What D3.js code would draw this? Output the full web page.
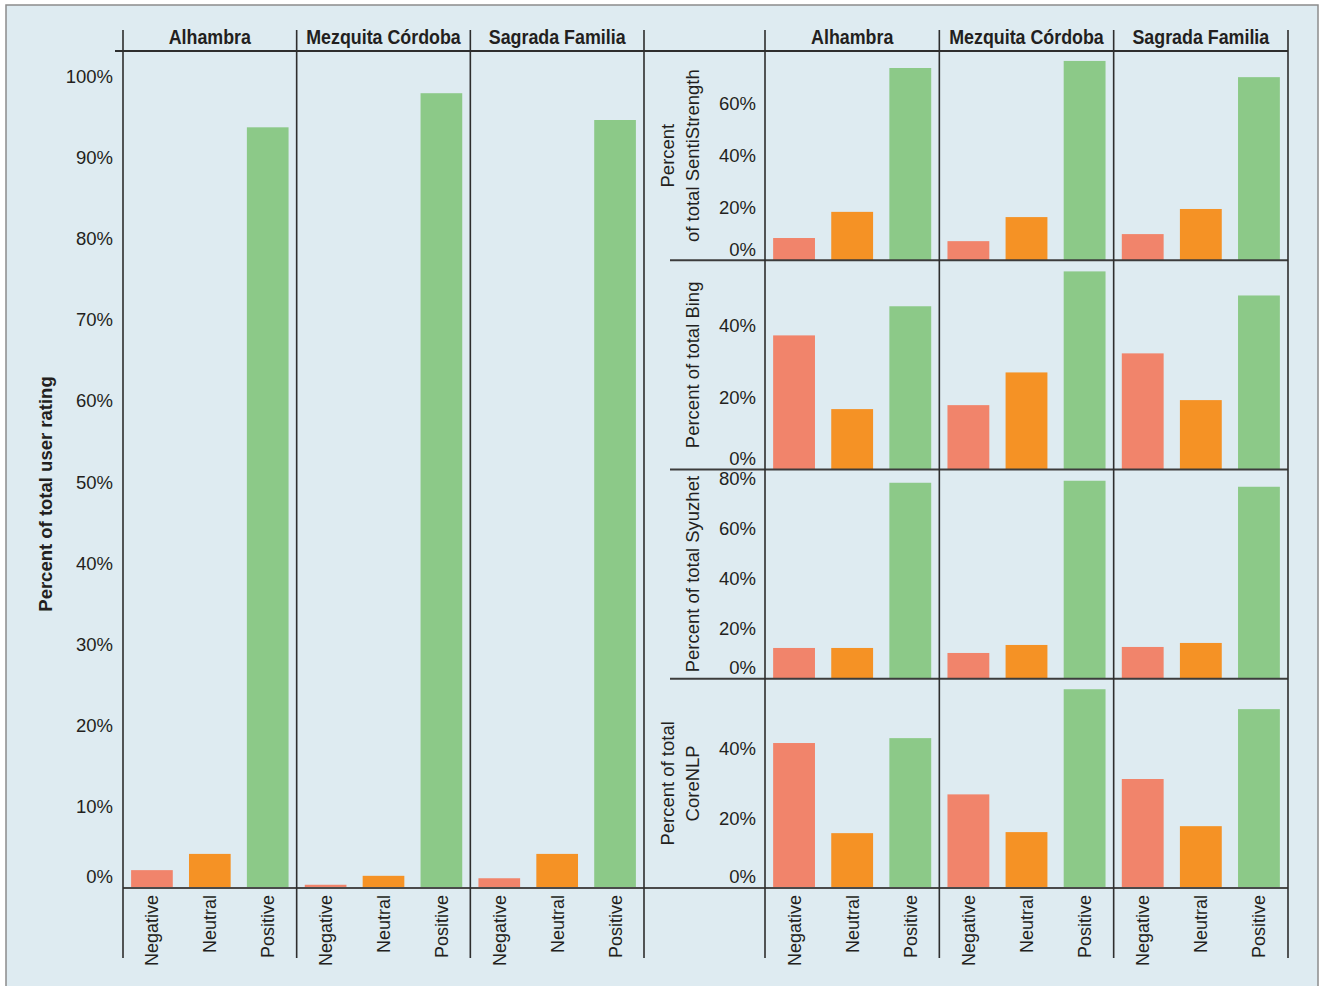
<!DOCTYPE html>
<html>
<head>
<meta charset="utf-8">
<script src="https://cdn.jsdelivr.net/npm/d3@7"></script>
<style>
  body { margin: 0; background: #fff; }
  text { fill: #231f20; }
</style>
</head>
<body>
<svg width="1320" height="986"></svg>
<script>
// data
const places = ["Alhambra", "Mezquita Córdoba", "Sagrada Familia"]
const sentiments = ["Negative", "Neutral", "Positive"]

// percent per place (Negative, Neutral, Positive)
const userRating    = [[2.2, 4.2, 93.7], [0.4, 1.5, 97.9], [1.2, 4.2, 94.6]]
const sentiStrength = [[8.5, 18.5, 73.5], [7.3, 16.5, 76.2], [10.0, 19.6, 70.0]]
const bing          = [[37.3, 16.8, 45.4], [17.9, 27.0, 55.1], [32.3, 19.3, 48.4]]
const syuzhet       = [[12.3, 12.3, 78.3], [10.3, 13.5, 79.1], [12.7, 14.3, 76.7]]
const coreNLP       = [[41.5, 15.7, 42.9], [26.8, 16.0, 56.9], [31.2, 17.7, 51.2]]

const userTicks = [0, 10, 20, 30, 40, 50, 60, 70, 80, 90, 100]
const sentiTicks = [0, 20, 40, 60]
const bingTicks = [0, 20, 40]
const syuzhetTicks = [0, 20, 40, 60, 80]
const coreTicks = [0, 20, 40]

const colors = {Negative: "#f1846b", Neutral: "#f59225", Positive: "#8cc988"}

// layout
let svg = d3.select("svg")
let lineCol = "#2e2e2e"
let fontReg = "'Liberation Sans', Arial, sans-serif"

svg.append("rect").attr("x", 6).attr("y", 5).attr("width", 1312).attr("height", 995)
    .attr("fill", "#deebf1").attr("stroke", "#8c8c8c").attr("stroke-width", 1.5)

let plotTop = 51, plotBottom = 888

let leftFacet = d3.scaleBand().domain(places).range([123, 644])
let rightFacet = d3.scaleBand().domain(places).range([765, 1288])
let rows = d3.scaleBand().domain(["SentiStrength", "Bing", "Syuzhet", "CoreNLP"]).range([plotTop, plotBottom])

function drawBars(g, facet, yScale, values) {
    places.forEach((p, i) => {
        let x = d3.scaleBand().domain(sentiments)
            .range([facet(p), facet(p) + facet.bandwidth()])
            .paddingInner(0.28).paddingOuter(0.14)
        g.selectAll(null)
            .data(sentiments.map((s, j) => ({s: s, v: values[i][j]})))
            .join("rect")
            .attr("x", d => x(d.s))
            .attr("width", x.bandwidth())
            .attr("y", d => yScale(d.v))
            .attr("height", d => yScale(0) - yScale(d.v))
            .attr("fill", d => colors[d.s])
    })
}

function drawYAxis(xPos, yScale, ticks) {
    let ax = svg.append("g")
        .attr("transform", `translate(${xPos},0)`)
        .call(d3.axisLeft(yScale).tickValues(ticks).tickSize(0).tickPadding(0).tickFormat(d => d + "%"))
    ax.select(".domain").remove()
    ax.selectAll("text")
        .attr("font-family", fontReg)
        .attr("font-size", 18.5)
        .attr("fill", "#231f20")
        .attr("dy", d => d == 0 ? "-0.28em" : "0.32em")
}

function drawXAxis(facet) {
    places.forEach(p => {
        let x = d3.scaleBand().domain(sentiments)
            .range([facet(p), facet(p) + facet.bandwidth()])
            .paddingInner(0.28).paddingOuter(0.14)
        let ax = svg.append("g")
            .attr("transform", `translate(0,${plotBottom})`)
            .call(d3.axisBottom(x).tickSize(0))
        ax.select(".domain").remove()
        ax.selectAll("text")
            .attr("transform", "rotate(-90)")
            .attr("x", -7).attr("y", 0).attr("dy", "0.36em")
            .attr("text-anchor", "end")
            .attr("font-family", fontReg)
            .attr("font-size", 18)
            .attr("fill", "#231f20")
    })
}

// left panel : user rating
let yUser = d3.scaleLinear().domain([0, 103.1]).range([plotBottom, plotTop])
drawBars(svg.append("g"), leftFacet, yUser, userRating)
drawYAxis(113, yUser, userTicks)
drawXAxis(leftFacet)

// right panels
let rightData = [
    {name: "SentiStrength", values: sentiStrength, ticks: sentiTicks, max: 80, title: ["Percent", "of total SentiStrength"]},
    {name: "Bing", values: bing, ticks: bingTicks, max: 58.2, title: ["Percent of total Bing"]},
    {name: "Syuzhet", values: syuzhet, ticks: syuzhetTicks, max: 83.6, title: ["Percent of total Syuzhet"]},
    {name: "CoreNLP", values: coreNLP, ticks: coreTicks, max: 59.9, title: ["Percent of total", "CoreNLP"]}
]

rightData.forEach(r => {
    let y0 = rows(r.name), y1 = rows(r.name) + rows.bandwidth()
    let y = d3.scaleLinear().domain([0, r.max]).range([y1, y0])
    drawBars(svg.append("g"), rightFacet, y, r.values)
    drawYAxis(756, y, r.ticks)
    let cy = (y0 + y1) / 2
    let t = svg.append("text")
        .attr("transform", `translate(${r.title.length == 2 ? 674 : 699},${cy}) rotate(-90)`)
        .attr("text-anchor", "middle")
        .attr("font-family", fontReg)
        .attr("font-size", 18.5)
    r.title.forEach((line, i) => {
        t.append("tspan").attr("x", 0).attr("dy", i == 0 ? 0 : "1.35em").text(line)
    })
    // row separator
    if (r.name != "CoreNLP") {
        svg.append("line")
            .attr("x1", 670).attr("x2", 1288).attr("y1", y1).attr("y2", y1)
            .attr("stroke", "#3c3c3c").attr("stroke-width", 2)
    }
})
drawXAxis(rightFacet)

// left axis title
svg.append("text")
    .attr("transform", `translate(52,494) rotate(-90)`)
    .attr("text-anchor", "middle")
    .attr("font-family", fontReg)
    .attr("font-weight", "bold")
    .attr("font-size", 18.5)
    .text("Percent of total user rating")

// frame lines
svg.append("line").attr("x1", 115).attr("x2", 1288).attr("y1", plotTop).attr("y2", plotTop)
    .attr("stroke", lineCol).attr("stroke-width", 1.8)
svg.append("line").attr("x1", 123).attr("x2", 1288).attr("y1", plotBottom).attr("y2", plotBottom)
    .attr("stroke", "#4a4a4a").attr("stroke-width", 2)

let vlines = [leftFacet.range()[0]].concat(places.map(p => leftFacet(p) + leftFacet.bandwidth()))
    .concat([rightFacet.range()[0]]).concat(places.map(p => rightFacet(p) + rightFacet.bandwidth()))
svg.selectAll(null).data(vlines).join("line")
    .attr("x1", d => d).attr("x2", d => d).attr("y1", 30).attr("y2", 958)
    .attr("stroke", lineCol).attr("stroke-width", 1.6)

// strip titles (condensed look)
;[leftFacet, rightFacet].forEach(f => {
    svg.selectAll(null).data(places).join("text")
        .attr("transform", p => `translate(${f(p) + f.bandwidth() / 2},44) scale(0.85,1)`)
        .attr("text-anchor", "middle")
        .attr("font-family", fontReg)
        .attr("font-weight", "bold")
        .attr("font-size", 21)
        .text(p => p)
})
</script>
</body>
</html>
